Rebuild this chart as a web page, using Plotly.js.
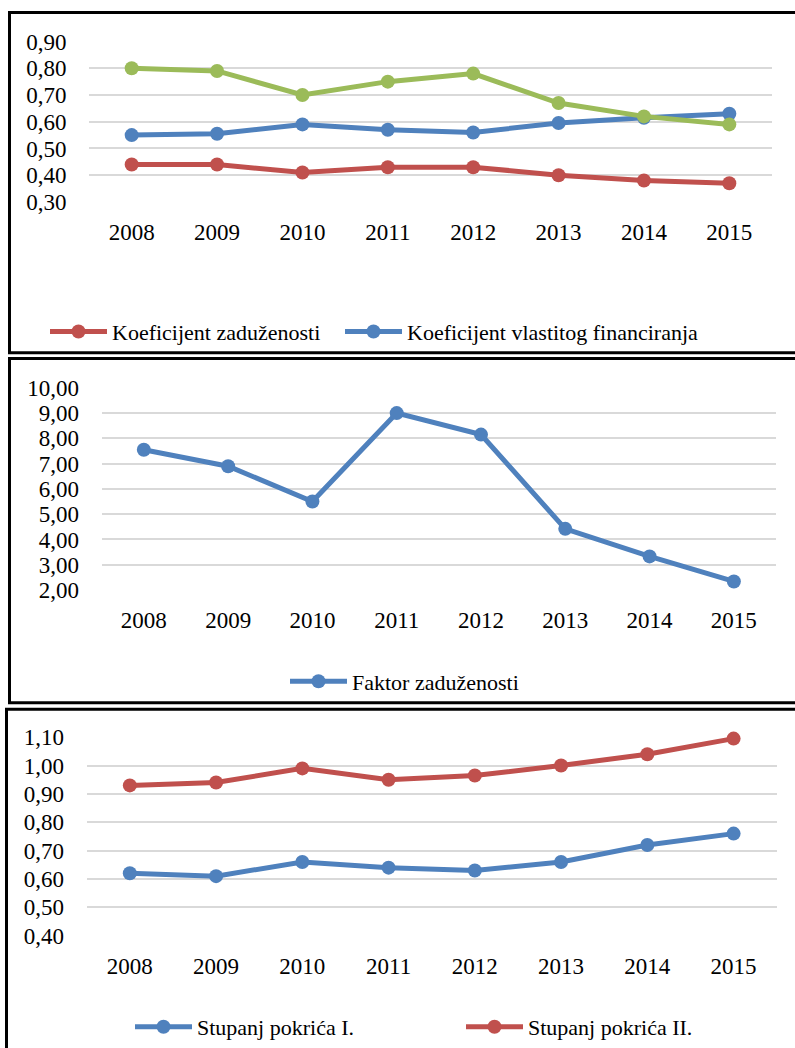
<!DOCTYPE html>
<html>
<head>
<meta charset="utf-8">
<script src="https://cdn.plot.ly/plotly-3.0.1.min.js"></script>
<style>
  html, body { margin: 0; padding: 0; background: #fff; }
  #chart { width: 795px; height: 1048px; }
</style>
</head>
<body>
<div id="chart"></div>
<script>
// ---------- data ----------
const years = ['2008', '2009', '2010', '2011', '2012', '2013', '2014', '2015'];

const koefZaduzenosti = [0.44, 0.44, 0.41, 0.43, 0.43, 0.40, 0.38, 0.37];
const koefVlastitogFin = [0.55, 0.555, 0.59, 0.57, 0.56, 0.595, 0.615, 0.63];
const treciPokazatelj = [0.80, 0.79, 0.70, 0.75, 0.78, 0.67, 0.62, 0.59];

const faktorZaduzenosti = [7.55, 6.90, 5.50, 9.00, 8.15, 4.42, 3.33, 2.34];

const stupanjPokricaI = [0.62, 0.61, 0.66, 0.64, 0.63, 0.66, 0.72, 0.76];
const stupanjPokricaII = [0.93, 0.94, 0.99, 0.95, 0.965, 1.00, 1.04, 1.095];

const names1 = ['Koeficijent zaduženosti', 'Koeficijent vlastitog financiranja', 'Koeficijent financiranja'];
const names2 = ['Faktor zaduženosti'];
const names3 = ['Stupanj pokrića I.', 'Stupanj pokrića II.'];

// ---------- styling ----------
const W = 795, H = 1048;
const RED = '#C0504D', BLUE = '#4F81BD', GREEN = '#9BBB59';
const FONT = 'Liberation Serif';

function px2x(p) { return p / W; }
function px2y(p) { return 1 - p / H; }

// y domain so that value vTop sits at pixel pTop and vBot at pBot
function yDomain(pTop, pBot, vTop, vBot, lo, hi) {
  const k = (pBot - pTop) / (vTop - vBot);
  const pLo = pBot + (vBot - lo) * k;
  const pHi = pTop - (hi - vTop) * k;
  return [px2y(pLo), px2y(pHi)];
}

function lineTrace(x, y, name, color, xa, ya, legend, showlegend) {
  return {
    x: x, y: y, name: name, type: 'scatter', mode: 'lines+markers',
    xaxis: xa, yaxis: ya, legend: legend, showlegend: showlegend,
    line: { color: color, width: 5 },
    marker: { color: color, size: 14 },
    cliponaxis: false, hoverinfo: 'skip'
  };
}

const traces = [
  lineTrace(years, koefZaduzenosti, names1[0], RED, 'x', 'y', 'legend', true),
  lineTrace(years, koefVlastitogFin, names1[1], BLUE, 'x', 'y', 'legend2', true),
  lineTrace(years, treciPokazatelj, names1[2], GREEN, 'x', 'y', 'legend', false),
  lineTrace(years, faktorZaduzenosti, names2[0], BLUE, 'x2', 'y2', 'legend3', true),
  lineTrace(years, stupanjPokricaI, names3[0], BLUE, 'x3', 'y3', 'legend4', true),
  lineTrace(years, stupanjPokricaII, names3[1], RED, 'x3', 'y3', 'legend5', true)
];

function xAxis(p0, p1, anchor) {
  return {
    type: 'category', range: [-0.5, 7.5], domain: [px2x(p0), px2x(p1)],
    anchor: anchor, showgrid: false, zeroline: false, showline: false,
    ticks: 'outside', ticklen: 9, tickcolor: 'rgba(0,0,0,0)',
    tickfont: { family: FONT, size: 23, color: '#000' }, fixedrange: true
  };
}
function yAxis(dom, lo, hi, dtick, anchor) {
  return {
    domain: dom, range: [lo, hi], anchor: anchor, dtick: dtick, tick0: 0,
    tickformat: '.2f', showgrid: true, gridcolor: '#D9D9D9', gridwidth: 2,
    zeroline: false, showline: false,
    ticks: 'outside', ticklen: 17, tickcolor: 'rgba(0,0,0,0)',
    tickfont: { family: FONT, size: 23, color: '#000' }, fixedrange: true
  };
}

function legendAt(xp, yp) {
  return {
    x: px2x(xp), y: px2y(yp), xanchor: 'left', yanchor: 'middle',
    orientation: 'h', bgcolor: 'rgba(0,0,0,0)', borderwidth: 0,
    font: { family: FONT, size: 22, color: '#000' }, itemwidth: 57,
    itemclick: false, itemdoubleclick: false
  };
}

function border(x0, y0, x1, y1) {
  return {
    type: 'rect', xref: 'paper', yref: 'paper',
    x0: px2x(x0), x1: px2x(x1), y0: px2y(y0), y1: px2y(y1),
    line: { color: '#000', width: 3 }, fillcolor: 'rgba(0,0,0,0)'
  };
}

const layout = {
  width: W, height: H,
  margin: { l: 0, r: 0, t: 0, b: 0 },
  paper_bgcolor: '#fff', plot_bgcolor: 'rgba(0,0,0,0)',
  separators: ', ',
  font: { family: FONT, color: '#000' },
  xaxis: xAxis(89, 772, 'y'),
  yaxis: yAxis(yDomain(41.7, 202.7, 0.9, 0.3, 0.298, 0.902), 0.298, 0.902, 0.1, 'x'),
  xaxis2: xAxis(101.7, 776, 'y2'),
  yaxis2: yAxis(yDomain(389.3, 592.3, 10, 2, 1.98, 10.02), 1.98, 10.02, 1, 'x2'),
  xaxis3: xAxis(86.7, 776.7, 'y3'),
  yaxis3: yAxis(yDomain(740, 939.3, 1.1, 0.4, 0.398, 1.102), 0.398, 1.102, 0.1, 'x3'),
  legend: legendAt(45, 333),
  legend2: legendAt(340, 333),
  legend3: legendAt(285, 684),
  legend4: legendAt(130, 1031),
  legend5: legendAt(461, 1031),
  shapes: [
    border(9.5, 12.5, 810, 354),
    border(9.5, 359.8, 810, 705.5),
    border(6.5, 712, 810, 1060)
  ]
};

Plotly.newPlot('chart', traces, layout, { displayModeBar: false, staticPlot: true });
</script>
</body>
</html>
